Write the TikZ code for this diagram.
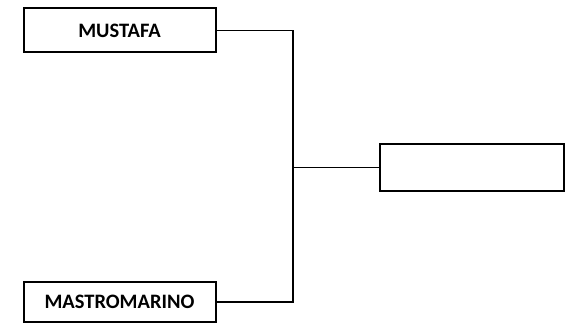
\documentclass[tikz,border=0pt]{standalone}
\usepackage{fontspec}
\setmainfont{Carlito}
\begin{document}
\begin{tikzpicture}[x=1pt,y=-1pt,
  namebox/.style={draw, line width=2pt, minimum width=192pt, minimum height=44pt, inner sep=0pt, font=\fontsize{20.5}{22}\selectfont\bfseries},
  link/.style={draw, line width=1.2pt}]
\useasboundingbox (0,0) rectangle (572,328);
\node[namebox] (m1) at (119.5,30.5) {MUSTAFA};
\node[namebox, minimum height=40pt] (m2) at (119.5,302) {MASTROMARINO};
\node[namebox, minimum width=184pt, minimum height=47pt] (w) at (472,167.5) {};
\coordinate (j) at (293,167.5);
\draw[link] (m1.east) -| (j);
\draw[link] (m2.east) -| (j);
\draw[link] (j) -- (w.west);
\end{tikzpicture}
\end{document}
